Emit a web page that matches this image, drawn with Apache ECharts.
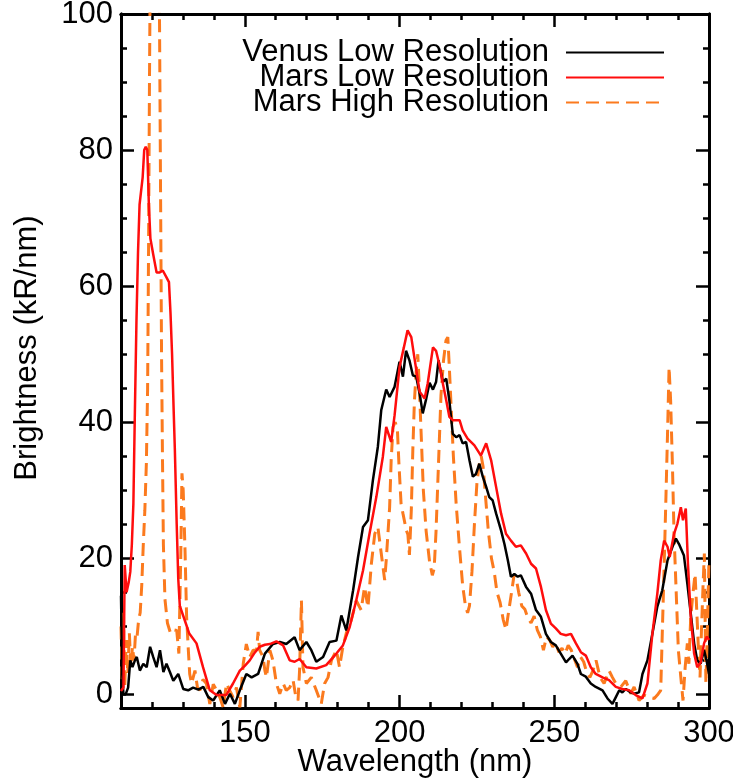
<!DOCTYPE html>
<html>
<head>
<meta charset="utf-8">
<script src="https://cdn.jsdelivr.net/npm/echarts@6.0.0/dist/echarts.min.js"></script>
<style>html,body{margin:0;padding:0;background:#fff}#chart{width:733px;height:778px}</style>
</head>
<body>
<div id="chart"></div>
<script>
// ---- data (wavelength nm, brightness kR/nm) ----
const venusLow = [[110,14.5],[110.4,3],[110.8,0],[111.5,0],[112.3,1],[113,5],[113.7,4],[114.5,5],[115.1,5.5],[116.1,3.5],[117.2,4.5],[118.3,4],[119.4,7],[120.4,5.5],[121.5,4],[122.6,6.5],[123.7,3.3],[124.7,4.5],[125.8,3.3],[126.9,2],[128.5,3],[130.1,0.8],[131.7,0.6],[133.3,1],[135,0.7],[136.6,1.1],[138.2,-0.4],[139.8,-0.9],[141.9,0.6],[143.6,-1.4],[145.2,0.1],[146.8,-1.4],[148.4,0.6],[150.5,3],[152.2,2.5],[154.3,3],[156.5,6],[159.1,7.4],[161.3,7.7],[163.4,7.4],[166.1,8.4],[167.7,6.5],[169.9,7.7],[171.5,6.5],[173.1,4.8],[175.3,5.5],[177.4,7.7],[179.6,7.9],[181.2,11.6],[182.8,9.4],[185,15.3],[186.6,20.2],[188.2,24.6],[189.8,25.6],[191.4,31.5],[193,36.4],[194.1,41.8],[195.7,44.8],[196.8,43.7],[198.4,45.2],[200,48.9],[201.1,46.7],[202.1,50.5],[203.2,49.1],[204.3,46.9],[205.4,46.7],[206.5,44.2],[207.5,41.3],[208.6,43.4],[209.7,45.8],[210.8,44.8],[211.8,45.9],[212.6,49.1],[214,45.9],[215.1,46.4],[216.1,43.2],[217.2,38.3],[218.3,37.8],[219.4,38.1],[220.4,36.9],[221.5,37.1],[222.6,34.4],[223.7,32],[224.7,32.4],[225.8,33.9],[226.9,32],[228,30.5],[229,29],[230.1,28.5],[231.2,26.6],[232.8,24.1],[233.9,22.1],[235,19.7],[236,17.3],[237.1,17.7],[238.2,17.3],[239.2,17.5],[240.9,15.8],[242.5,14.8],[244.1,12.4],[245.7,11.4],[247.3,8.9],[248.9,7.7],[250.5,7.2],[252.1,6],[253.8,4.7],[254.8,5.2],[255.9,5.7],[257.5,4.5],[258.6,3],[260.2,2.6],[261.8,1.6],[263.4,1.1],[265.6,0.6],[267.2,-0.6],[268.8,-1.4],[269.9,-0.4],[271,0.6],[272,0.3],[273.1,0.8],[274.7,0.3],[275.8,0.1],[277.4,0.3],[278.5,3],[280.1,5],[281.7,8.9],[283.3,12.9],[284.9,15.3],[286.6,19.7],[288.2,21.7],[289.3,22.9],[290.3,22.1],[291.9,20.4],[293,16.3],[294.1,11.9],[295.2,7.5],[296.2,5],[297.3,4.5],[298.4,6.5],[299.2,5],[300,3]];

const marsLow = [[110,0.5],[110.8,1],[111.2,19],[111.8,15],[112.5,16.5],[113,18],[113.5,22],[114,28],[114.5,42],[115,55],[115.5,65],[116,72],[116.5,74],[117,76],[117.5,80],[118,80.5],[118.5,80],[119,72],[119.5,67],[120.4,64.7],[121.5,62],[122.5,62],[123.5,62.3],[124.7,61.3],[125.5,60.6],[126,56],[126.5,50],[127,42],[127.4,36],[128,25],[128.5,17],[129,13],[130.6,10.9],[132,9],[134.4,7.5],[136.5,4],[138.7,0.6],[140.9,-0.1],[144,-0.1],[146.2,1.6],[148.4,3.5],[150,4.2],[151.6,5],[153,6],[154.8,7],[156.5,7.3],[158.1,7.4],[160.2,7.8],[162.4,7.2],[164.5,5],[166.1,4.8],[167.7,5.2],[169.9,4],[173.1,3.8],[176.3,4.3],[179.6,6],[181.7,7.2],[183.9,9.9],[186,13.8],[188.2,18.2],[190.3,23.6],[192.5,29],[194.6,34.9],[195.7,39.3],[197.3,37.1],[198.4,41],[200,48.1],[201.4,51],[202.6,53.5],[203.8,52.5],[204.8,49.5],[206.5,44.5],[208.1,43.5],[209.1,45.7],[210.8,51],[211.8,50.5],[212.9,48.4],[214,45.7],[215.1,43.2],[216.1,40.8],[217.2,40.3],[219.4,40.3],[220.4,38.8],[222,37.6],[224.2,36.6],[226.3,35.1],[228,36.9],[229.6,34.4],[231.2,30.5],[232.8,26.6],[234.4,23.6],[236,22.6],[237.6,21.7],[239.2,21.9],[240.9,20.7],[242.5,19.2],[244.1,18.5],[245.7,15.8],[247.3,12.4],[248.9,10.4],[250.5,9.7],[252.1,8.9],[253.8,8.7],[255.4,8.9],[257,7.5],[258.6,6.2],[260.2,5.7],[261.8,4],[263.4,3],[265.6,2.5],[267.7,2.1],[269.9,1.1],[272,0.8],[274.2,0.6],[276.3,-0.1],[278.5,-0.6],[280.1,1.6],[281.7,8.9],[283.3,14.8],[284.4,19.7],[285.5,22.6],[286.6,21.7],[287.3,20.2],[288.7,23.6],[289.8,25.1],[290.9,27.5],[291.6,25.6],[292.5,27.3],[293.2,19.2],[294.1,11.4],[295.2,6],[296.2,4],[297.3,4.7],[298.4,7.5],[299.3,8.5],[300,8]];

const marsHigh = [[110,10],[110.4,2],[110.8,12],[111.2,1],[111.7,8],[112.2,3],[112.7,9],[113.2,4],[113.7,7],[114.2,5],[114.7,9],[115.2,8.5],[115.7,11],[116.2,12],[116.7,16],[117.2,22],[117.7,27],[118.2,34],[118.6,45],[118.9,65],[119.2,90],[119.5,110],[120.5,150],[121.6,170],[122.3,110],[122.7,80],[123.1,50],[123.4,35],[123.7,22],[124.2,14],[125,10.5],[126,9],[127,9.5],[128,9.4],[128.7,6],[129.3,20],[129.7,32.5],[130.1,30],[130.7,21],[131.2,11.4],[131.7,7],[132.2,3],[132.8,1.6],[133.9,3.5],[134.7,1],[135.5,0.6],[136.5,2.2],[137.6,1.6],[138.7,-1.4],[139.8,1.5],[140.9,0.6],[142,-0.5],[143,-1.9],[144.1,1.6],[145.2,0.5],[146.2,-0.4],[147.3,1],[148.4,-1.9],[149.5,4.5],[150.5,7.4],[151.6,5.5],[152.7,6.5],[153.8,6.5],[154.3,9.2],[154.8,6.5],[155.9,5.5],[156.5,3.5],[157,2.5],[158.1,6.5],[159.1,5],[160.2,1.6],[161.3,0.1],[162.4,1.6],[163.4,0.6],[164.5,1],[165.6,2.1],[166.5,-0.4],[167.2,-0.9],[167.7,3.5],[168.3,13.8],[168.8,4],[169.9,1.6],[171.5,2.5],[173.1,0.6],[174.7,-1.4],[175.8,1.6],[176.9,2.5],[178,5],[179.6,6.5],[180.6,4],[181.7,7],[182.8,9],[184.4,10.9],[186,13.8],[187.6,12.4],[188.7,15.8],[189.8,12.8],[190.9,19.2],[192,23.6],[193,24.6],[194.1,20.7],[195.2,16.8],[195.7,19.7],[196.8,27.5],[197.3,34.4],[197.9,39.3],[198.6,40],[199.3,39],[199.8,34],[200.5,28],[201.1,26.6],[202.2,24.1],[202.7,23.5],[203.2,20.5],[203.8,27],[204.3,36],[204.8,43],[205.4,47.5],[205.9,50],[206.5,44],[207.1,37],[207.7,30],[208.6,24],[209.7,19.5],[210.6,17.5],[211.2,18.5],[211.8,24],[212.6,34],[213.4,44],[214.2,49],[215,52],[215.6,52.5],[216.1,48],[216.7,42],[217.4,35],[218.3,28],[219.3,22],[220.4,16],[221.3,13],[222,12],[222.6,13],[223.4,18],[224.2,25],[225,31],[225.8,34],[226.4,35],[227,33.5],[227.8,29],[228.7,24],[229.7,20],[230.6,18],[231.5,15],[232.5,13.5],[233.5,11],[234.4,9.5],[235.2,12],[236.2,15],[237,17.5],[237.8,16.8],[238.5,15],[239.5,13],[240.5,12.5],[241.5,11.2],[242.5,10.5],[243.5,11.5],[244.5,9.5],[245.5,8.5],[246.5,6.5],[247.5,8.5],[248.5,8],[249.5,7],[250.5,7.5],[251.5,6.2],[252.5,6.8],[253.5,6],[254.5,7.2],[255.5,6.5],[256.5,5.2],[257.5,4],[258.5,5.5],[259.5,4.8],[260.5,3.2],[261.5,2.5],[262.5,3.5],[263.5,5],[264.8,2.5],[266.1,1.6],[267.7,3.5],[268.8,2.5],[269.9,1.6],[271.5,1.1],[273.1,2],[274.7,0.1],[275.8,1.1],[277.4,-0.9],[279,-0.1],[280.6,-0.4],[282.3,-0.6],[283.3,-0.1],[284.4,0.6],[284.9,8.9],[285.5,18.7],[286,27.5],[286.6,38.3],[287.1,48.1],[287.6,43.2],[288.2,33.4],[288.7,23.6],[289.5,13.8],[290.1,6.5],[290.9,2.5],[291.6,-0.9],[292.3,4],[293,7.5],[293.5,4.5],[294.1,11.4],[294.8,14.8],[295.5,17.7],[295.9,13.8],[296.6,6.5],[297.1,2.5],[297.6,9.9],[298.1,16.3],[298.5,20.7],[299,1.6],[299.5,10],[300,20]];

const seriesNames = ['Venus Low Resolution', 'Mars Low Resolution', 'Mars High Resolution'];
const xMajorTicks = [150, 200, 250, 300];
const xMinorTicks = [120, 130, 140, 160, 170, 180, 190, 210, 220, 230, 240, 260, 270, 280, 290];
const yMajorTicks = [0, 20, 40, 60, 80, 100];
const yMinorTicks = [5, 10, 15, 25, 30, 35, 45, 50, 55, 65, 70, 75, 85, 90, 95];

const FONT = 'Liberation Sans, Arial, Helvetica, sans-serif';
const chart = echarts.init(document.getElementById('chart'), null, {renderer: 'canvas'});

function xAx(pos, ticks, len, labels, extra) {
  return Object.assign({
    type: 'value', min: 110, max: 300, position: pos, gridIndex: 0,
    axisLine: {show: true, onZero: false, lineStyle: {color: '#000', width: 3}},
    axisTick: {show: true, inside: true, length: len, customValues: ticks, lineStyle: {color: '#000', width: 2.5}},
    axisLabel: labels ? {show: true, customValues: ticks, color: '#000', fontSize: 31, fontFamily: FONT, margin: 10} : {show: false},
    splitLine: {show: false}
  }, extra || {});
}
function yAx(pos, ticks, len, labels, extra) {
  return Object.assign({
    type: 'value', min: -2, max: 100, position: pos, gridIndex: 0,
    axisLine: {show: true, onZero: false, lineStyle: {color: '#000', width: 3}},
    axisTick: {show: true, inside: true, length: len, customValues: ticks, lineStyle: {color: '#000', width: 2.5}},
    axisLabel: labels ? {show: true, customValues: ticks, color: '#000', fontSize: 31, fontFamily: FONT, margin: 8} : {show: false},
    splitLine: {show: false}
  }, extra || {});
}

const option = {
  backgroundColor: '#fff',
  animation: false,
  grid: {left: 121, right: 24, top: 14, bottom: 70, containLabel: false, outerBoundsMode: 'none'},
  xAxis: [
    xAx('bottom', xMajorTicks, 13, true, {name: 'Wavelength (nm)', nameLocation: 'middle', nameGap: 39, nameMoveOverlap: false,
      nameTextStyle: {fontSize: 31, color: '#000', fontFamily: FONT}}),
    xAx('bottom', xMinorTicks, 6, false),
    xAx('top', xMajorTicks, 13, false),
    xAx('top', xMinorTicks, 6, false)
  ],
  yAxis: [
    yAx('left', yMajorTicks, 13, true, {name: 'Brightness (kR/nm)', nameLocation: 'middle', nameGap: 78, nameRotate: 90, nameMoveOverlap: false,
      nameTextStyle: {fontSize: 31, color: '#000', fontFamily: FONT, padding: [0, 0, 0, 26]}}),
    yAx('left', yMinorTicks, 6, false),
    yAx('right', yMajorTicks, 13, false),
    yAx('right', yMinorTicks, 6, false)
  ],
  legend: [0, 1, 2].map(i => ({
    data: [seriesNames[i]],
    right: 68, top: 37 + i * 25,
    orient: 'vertical', align: 'right', padding: 0,
    itemWidth: 98, itemHeight: 14,
    selectedMode: false,
    itemStyle: {opacity: 0},
    textStyle: {fontSize: 31, color: '#000', fontFamily: FONT, padding: [0, 12, 0, 0]}
  })),
  series: [
    {name: seriesNames[0], type: 'line', data: venusLow, xAxisIndex: 0, yAxisIndex: 0,
     showSymbol: false, symbol: 'none', clip: true, z: 3,
     lineStyle: {color: '#000000', width: 2.5}, itemStyle: {color: '#000000'}},
    {name: seriesNames[1], type: 'line', data: marsLow, xAxisIndex: 0, yAxisIndex: 0,
     showSymbol: false, symbol: 'none', clip: true, z: 4,
     lineStyle: {color: '#ff0d0d', width: 2.5}, itemStyle: {color: '#ff0d0d'}},
    {name: seriesNames[2], type: 'line', data: marsHigh, xAxisIndex: 0, yAxisIndex: 0,
     showSymbol: false, symbol: 'none', clip: true, z: 2,
     lineStyle: {color: '#fb7a1e', width: 3, type: [13, 7]}, itemStyle: {color: '#fb7a1e'}}
  ]
};
chart.setOption(option);
</script>
</body>
</html>
